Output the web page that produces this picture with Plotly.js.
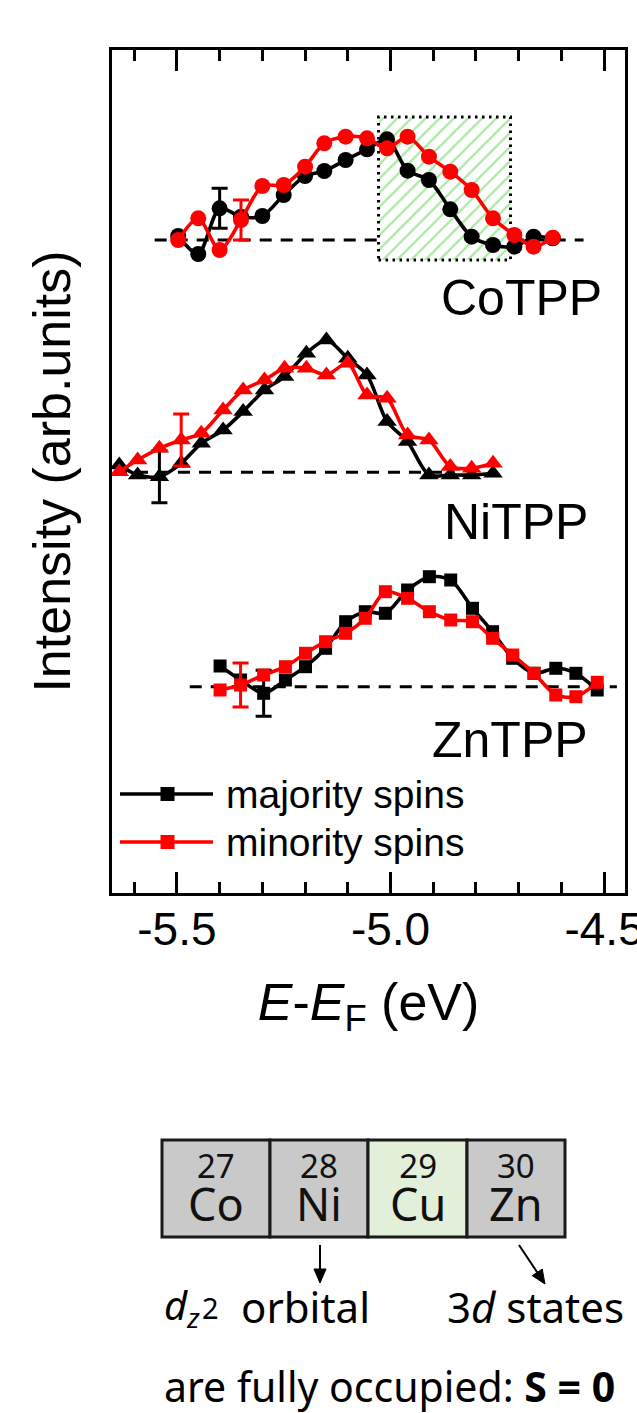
<!DOCTYPE html>
<html><head><meta charset="utf-8">
<script src="https://cdn.plot.ly/plotly-3.0.1.min.js"></script>
<style>html,body{margin:0;padding:0;background:#fff;}#chart{width:637px;height:1413px;}</style>
</head><body><div id="chart"></div>
<script>
// ---------- data (energy in eV, intensity in arb. units relative to each baseline) ----------
const coX = [-5.497,-5.45,-5.40,-5.35,-5.30,-5.25,-5.20,-5.155,-5.105,-5.055,-5.008,-4.96,-4.91,-4.86,-4.81,-4.76,-4.71,-4.665,-4.62];
const coMaj = [4,-14,31.7,23.3,24,45,64,69,80,90.7,100.7,69.3,60,30.7,3.3,-5,-6.7,3.3,1.7];
const coMin = [0,21.7,-10,20,54,55,73.3,96.7,103.3,101.7,91.7,103.3,83.3,68.3,50,21.7,5,-6.7,2.3];
const coMajErr = [NaN,NaN,20,NaN,NaN,NaN,NaN,NaN,NaN,NaN,NaN,NaN,NaN,NaN,NaN,NaN,NaN,NaN,NaN];
const coMinErr = [NaN,NaN,NaN,20,NaN,NaN,NaN,NaN,NaN,NaN,NaN,NaN,NaN,NaN,NaN,NaN,NaN,NaN,NaN];

const niX = [-5.635,-5.592,-5.541,-5.49,-5.443,-5.392,-5.345,-5.295,-5.248,-5.197,-5.15,-5.10,-5.055,-5.008,-4.96,-4.91,-4.86,-4.81,-4.76];
const niMaj = [7.3,-2.7,-4.4,9,29,42.3,60.7,82.3,95.7,119,132.3,114,97.3,50.7,30.7,-2.7,-2.7,-2.7,-1];
const niMin = [0.6,12.3,24,32.3,39,62.3,82.3,92.3,104,104,97.3,109,77.3,74,37.3,32.3,5.7,4,9];
const niMajErr = [NaN,NaN,26,NaN,NaN,NaN,NaN,NaN,NaN,NaN,NaN,NaN,NaN,NaN,NaN,NaN,NaN,NaN,NaN];
const niMinErr = [NaN,NaN,NaN,26,NaN,NaN,NaN,NaN,NaN,NaN,NaN,NaN,NaN,NaN,NaN,NaN,NaN,NaN,NaN];

const znX = [-5.399,-5.351,-5.297,-5.246,-5.199,-5.152,-5.105,-5.059,-5.012,-4.96,-4.909,-4.859,-4.808,-4.761,-4.714,-4.664,-4.613,-4.566,-4.516];
const znMaj = [20.7,6.7,-6.6,6.7,20,38.4,65,75,73.4,96.7,110,106.7,78.4,55,28.4,13.4,18.4,13.4,-3.3];
const znMin = [-3.3,1.7,11.7,20,33.4,45,53.4,68.4,95,88.4,75,66.7,65,48.4,31.7,13.4,-8.3,-10,4.4];
const znMajErr = [NaN,NaN,23,NaN,NaN,NaN,NaN,NaN,NaN,NaN,NaN,NaN,NaN,NaN,NaN,NaN,NaN,NaN,NaN];
const znMinErr = [NaN,22,NaN,NaN,NaN,NaN,NaN,NaN,NaN,NaN,NaN,NaN,NaN,NaN,NaN,NaN,NaN,NaN,NaN];

// vertical offsets of the stacked spectra and their dashed baselines
const offsets = {Co: 653, Ni: 420.7, Zn: 206.3};
const baseCo = [-5.552, -4.548];
const baseNi = [-5.645, -4.85];
const baseZn = [-5.47, -4.47];

// highlighted energy window on CoTPP
const boxX = [-5.028, -4.719];
const boxY = [-20, 123];

const molLabels = ['CoTPP', 'NiTPP', 'ZnTPP'];
const seriesNames = ['majority spins', 'minority spins'];
const tickVals = [-5.5, -5.0, -4.5];
const tickText = ['-5.5', '-5.0', '-4.5'];

const elemNum = ['27', '28', '29', '30'];
const elemSym = ['Co', 'Ni', 'Cu', 'Zn'];

// ---------- styling ----------
const BLACK = '#000000', RED = '#ff0000';
const FONT = 'Liberation Sans, Arial, sans-serif';
const FONT2 = 'Noto Sans, Open Sans, sans-serif';
const PL = 112, PR = 625, PT = 50, PB = 893, W = 637, H = 1413;
const px = x => (x - PL) / (PR - PL);
const py = y => (PB - y) / (PB - PT);
const add = (arr, o) => arr.map(v => v + o);

function spec(x, y, err, color, symbol, size) {
  return {
    type: 'scatter', mode: 'lines+markers', x: x, y: y, showlegend: false,
    line: {color: color, width: 3.6, shape: 'spline', smoothing: 0.8},
    marker: {color: color, symbol: symbol, size: size, line: {width: 0}},
    error_y: {type: 'data', array: err, visible: true, color: color, thickness: 3, width: 8},
    cliponaxis: false
  };
}

const traces = [
  {type: 'scatter', mode: 'lines', showlegend: false, hoverinfo: 'skip',
   x: [boxX[0], boxX[1], boxX[1], boxX[0], boxX[0]],
   y: add([boxY[0], boxY[0], boxY[1], boxY[1], boxY[0]], offsets.Co),
   fill: 'toself', fillcolor: 'rgba(0,0,0,0)',
   fillpattern: {shape: '/', fgcolor: '#a9e9a3', bgcolor: '#ffffff', size: 10, solidity: 0.22},
   line: {color: BLACK, width: 3, dash: '2.5px,4.5px'}},
  spec(coX, add(coMaj, offsets.Co), coMajErr, BLACK, 'circle', 16),
  spec(coX, add(coMin, offsets.Co), coMinErr, RED, 'circle', 16),
  spec(niX, add(niMaj, offsets.Ni), niMajErr, BLACK, 'triangle-up', 17),
  spec(niX, add(niMin, offsets.Ni), niMinErr, RED, 'triangle-up', 17),
  spec(znX, add(znMaj, offsets.Zn), znMajErr, BLACK, 'square', 13),
  spec(znX, add(znMin, offsets.Zn), znMinErr, RED, 'square', 13)
];

const dashLine = (xs, y) => ({type: 'line', xref: 'x', yref: 'y', x0: xs[0], x1: xs[1], y0: y, y1: y,
  line: {color: BLACK, width: 3, dash: '12px,9px'}, layer: 'below'});

const shapes = [
  dashLine(baseCo, offsets.Co), dashLine(baseNi, offsets.Ni), dashLine(baseZn, offsets.Zn)
];

// legend samples
const legRows = [{y: 794, c: BLACK}, {y: 842, c: RED}];
legRows.forEach(r => {
  shapes.push({type: 'line', xref: 'paper', yref: 'paper', x0: px(120), x1: px(213), y0: py(r.y), y1: py(r.y),
    line: {color: r.c, width: 3.6}});
  shapes.push({type: 'rect', xref: 'paper', yref: 'paper', x0: px(160.5), x1: px(174.5), y0: py(r.y + 7), y1: py(r.y - 7),
    fillcolor: r.c, line: {width: 0}});
});

// element boxes
const boxEdges = [162, 270, 368, 467, 565];
const boxFills = ['#c9c9c9', '#c9c9c9', '#e2efd9', '#c9c9c9'];
for (let i = 0; i < 4; i++) {
  shapes.push({type: 'rect', xref: 'paper', yref: 'paper', x0: px(boxEdges[i]), x1: px(boxEdges[i + 1]),
    y0: py(1237), y1: py(1140), fillcolor: boxFills[i], line: {color: '#1a1a1a', width: 3}});
}

// arrows (shaft + filled head) drawn as shapes
function arrow(x0, y0, x1, y1) {
  const dx = x1 - x0, dy = y1 - y0, L = Math.hypot(dx, dy), ux = dx / L, uy = dy / L;
  const hl = 14, hw = 6;
  const bx = x1 - ux * hl, by = y1 - uy * hl;
  shapes.push({type: 'line', xref: 'paper', yref: 'paper', x0: px(x0), y0: py(y0), x1: px(bx), y1: py(by),
    line: {color: BLACK, width: 2}});
  const p1 = [bx - uy * hw, by + ux * hw], p2 = [bx + uy * hw, by - ux * hw];
  shapes.push({type: 'path', xref: 'paper', yref: 'paper',
    path: `M${px(x1)},${py(y1)} L${px(p1[0])},${py(p1[1])} L${px(p2[0])},${py(p2[1])} Z`,
    fillcolor: BLACK, line: {color: BLACK, width: 1}});
}
arrow(320, 1245, 320, 1283);
arrow(519, 1245, 545, 1284);

const annotations = [];
const labY = [298, 522, 740], labX = [604, 590, 590];
molLabels.forEach((t, i) => annotations.push({text: t, xref: 'paper', yref: 'paper', x: px(labX[i]), y: py(labY[i]),
  xanchor: 'right', yanchor: 'middle', showarrow: false, font: {family: FONT, size: 50, color: BLACK}}));
seriesNames.forEach((t, i) => annotations.push({text: t, xref: 'paper', yref: 'paper', x: px(224), y: py(legRows[i].y),
  xanchor: 'left', yanchor: 'middle', showarrow: false, font: {family: FONT, size: 39, color: BLACK}}));
for (let i = 0; i < 4; i++) {
  const cx = px((boxEdges[i] + boxEdges[i + 1]) / 2);
  annotations.push({text: elemNum[i] + '<br><span style="font-size:45px">' + elemSym[i] + '</span>',
    xref: 'paper', yref: 'paper', x: cx, y: py(1188), xanchor: 'center', yanchor: 'middle', align: 'center',
    borderpad: 0, showarrow: false, font: {family: FONT2, size: 33, color: '#111'}});
}
const L1 = 1306;
annotations.push({text: '<i>d</i><sub><i>z</i></sub>', xref: 'paper', yref: 'paper', x: px(163), y: py(L1),
  xanchor: 'left', yanchor: 'middle', showarrow: false, borderpad: 0, font: {family: FONT2, size: 40, color: BLACK}});
annotations.push({text: '2', xref: 'paper', yref: 'paper', x: px(201), y: py(L1 + 1),
  xanchor: 'left', yanchor: 'middle', showarrow: false, borderpad: 0, font: {family: FONT2, size: 29, color: BLACK}});
annotations.push({text: 'orbital', xref: 'paper', yref: 'paper', x: px(240), y: py(L1),
  xanchor: 'left', yanchor: 'middle', showarrow: false, borderpad: 0, font: {family: FONT2, size: 42, color: BLACK}});
annotations.push({text: '3<i>d</i> states', xref: 'paper', yref: 'paper', x: px(446), y: py(L1),
  xanchor: 'left', yanchor: 'middle', showarrow: false, borderpad: 0, font: {family: FONT2, size: 42, color: BLACK}});
annotations.push({text: 'are fully occupied: <b>S = 0</b>', xref: 'paper', yref: 'paper', x: px(163), y: py(1386),
  xanchor: 'left', yanchor: 'middle', showarrow: false, borderpad: 0, font: {family: FONT2, size: 41, color: BLACK}});

const layout = {
  width: W, height: H, paper_bgcolor: '#fff', plot_bgcolor: '#fff',
  margin: {l: PL, r: W - PR, t: PT, b: H - PB, pad: 0},
  showlegend: false,
  font: {family: FONT, color: BLACK},
  xaxis: {
    range: [-5.652, -4.451], showgrid: false, zeroline: false,
    showline: true, linecolor: BLACK, linewidth: 3, mirror: 'ticks',
    ticks: 'inside', ticklen: 21, tickwidth: 3, tickcolor: BLACK,
    tickmode: 'array', tickvals: tickVals, ticktext: tickText,
    tickfont: {family: FONT, size: 46, color: BLACK},
    ticklabeloverflow: 'allow', ticklabelstandoff: -6,
    minor: {ticks: 'inside', dtick: 0.1, tick0: -5.5, ticklen: 11, tickwidth: 3, tickcolor: BLACK},
    title: {text: '<i>E</i>-<i>E</i><sub>F</sub> (eV)', font: {family: FONT, size: 52, color: BLACK}, standoff: 30},
    automargin: false
  },
  yaxis: {
    range: [0, 843], showgrid: false, zeroline: false,
    showline: true, linecolor: BLACK, linewidth: 3, mirror: true,
    ticks: '', showticklabels: false,
    title: {text: 'Intensity (arb.units)', font: {family: FONT, size: 52, color: BLACK}, standoff: 22},
    automargin: false
  },
  shapes: shapes,
  annotations: annotations
};

Plotly.newPlot('chart', traces, layout, {staticPlot: true, displayModeBar: false});
</script></body></html>
